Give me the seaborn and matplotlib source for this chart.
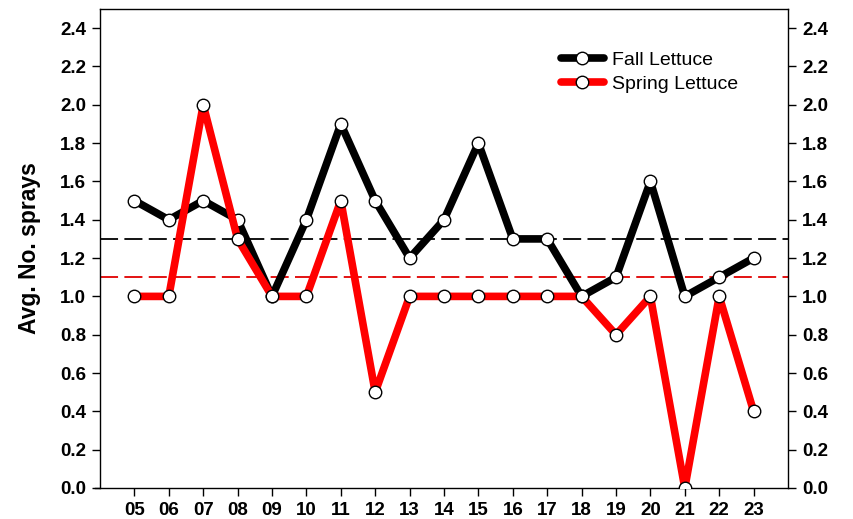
import matplotlib
matplotlib.use("Agg")
import matplotlib.pyplot as plt
import seaborn as sns
import pandas as pd
import numpy as np

years = ["05", "06", "07", "08", "09", "10", "11", "12", "13", "14",
         "15", "16", "17", "18", "19", "20", "21", "22", "23"]
fall = [1.5, 1.4, 1.5, 1.4, 1.0, 1.4, 1.9, 1.5, 1.2, 1.4,
        1.8, 1.3, 1.3, 1.0, 1.1, 1.6, 1.0, 1.1, 1.2]
spring = [1.0, 1.0, 2.0, 1.3, 1.0, 1.0, 1.5, 0.5, 1.0, 1.0,
          1.0, 1.0, 1.0, 1.0, 0.8, 1.0, 0.0, 1.0, 0.4]
fall_mean = 1.3
spring_mean = 1.1
yticks = [0.0, 0.2, 0.4, 0.6, 0.8, 1.0, 1.2, 1.4, 1.6, 1.8, 2.0, 2.2, 2.4]

sns.set_style("ticks")
plt.rcParams['font.family'] = ['Liberation Sans', 'DejaVu Sans']
plt.rcParams['text.color'] = 'black'
plt.rcParams['axes.labelcolor'] = 'black'
plt.rcParams['xtick.color'] = 'black'
plt.rcParams['ytick.color'] = 'black'

x = np.arange(5, 5 + len(years))
df = pd.DataFrame({
    "x": np.concatenate([x, x]),
    "y": fall + spring,
    "series": ["Fall Lettuce"] * len(years) + ["Spring Lettuce"] * len(years),
})

fig = plt.figure(figsize=(8.54, 5.19), dpi=100)
ax = fig.add_axes([100 / 854, 31 / 519, 688 / 854, 479 / 519])

ax.axhline(fall_mean, color="black", lw=1.3, ls=(0, (10, 3.5)), zorder=1)
ax.axhline(spring_mean, color="#e00000", lw=1.3, ls=(0, (10, 3.5)), zorder=1)

sns.lineplot(data=df, x="x", y="y", hue="series",
             palette={"Fall Lettuce": "black", "Spring Lettuce": "#ff0000"},
             hue_order=["Fall Lettuce", "Spring Lettuce"],
             lw=5.5, marker="o", markersize=9, markerfacecolor="white",
             markeredgecolor="black", markeredgewidth=1.0, ax=ax, zorder=3)

ax.set_xlim(4, 24)
ax.set_ylim(0, 2.5)
ax.set_xticks(x)
ax.set_xticklabels(years, fontsize=13.5, fontweight="bold")
ax.set_yticks(yticks)
ax.set_yticklabels([f"{v:.1f}" for v in yticks], fontsize=13.5, fontweight="bold")
ax.set_xlabel("")
ax.set_ylabel("Avg. No. sprays", fontsize=16.5, fontweight="bold")
ax.yaxis.set_label_coords(-0.086, 0.5)
ax.tick_params(axis="both", direction="out", length=6, width=1, color="black", pad=4)
ax.tick_params(axis="y", right=True, labelright=True)
for s in ax.spines.values():
    s.set_visible(True)
    s.set_linewidth(1.0)
    s.set_color("black")
ax.spines["bottom"].set_bounds(3.85, 24)

leg = ax.legend(loc="upper left", bbox_to_anchor=(0.67, 0.912), frameon=False,
                fontsize=14, handlelength=2.2, handletextpad=0.45,
                labelspacing=0.35, borderpad=0, borderaxespad=0)

fig.savefig("out.png", dpi=100)
